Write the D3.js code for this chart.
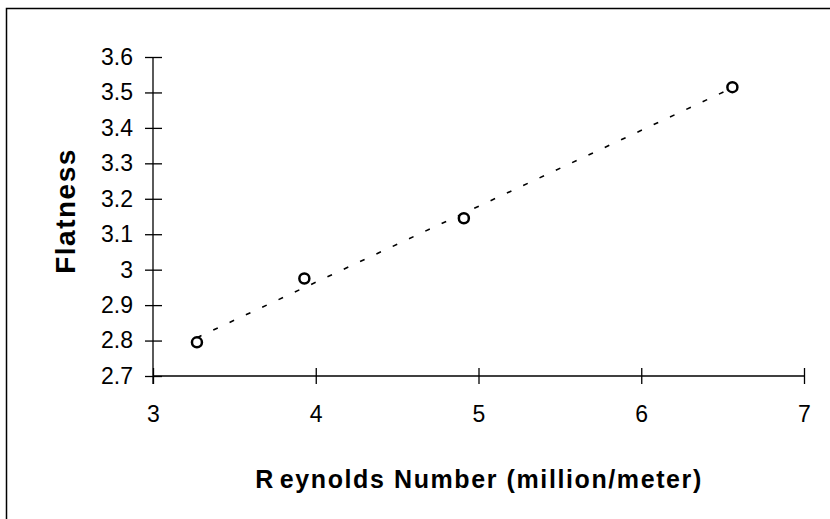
<!DOCTYPE html>
<html>
<head>
<meta charset="utf-8">
<script src="https://cdn.jsdelivr.net/npm/d3@7"></script>
<style>
    body { margin: 0; background: #fff; }
    svg { display: block; }
    .tick text { font-family: "Liberation Sans", Arial, sans-serif; font-size: 23px; fill: #000; }
    .title { font-family: "Liberation Sans", Arial, sans-serif; font-weight: bold; fill: #000; }
</style>
</head>
<body>
<div class="container"></div>
<script>
// Reynolds number (million/meter) vs flatness
const reynolds = [3.27, 3.93, 4.91, 6.56];
const flatness = [2.795, 2.975, 3.145, 3.515];
const xTicks = [3, 4, 5, 6, 7];
const yTicks = [2.7, 2.8, 2.9, 3.0, 3.1, 3.2, 3.3, 3.4, 3.5, 3.6];

const width = 830;
const height = 519;

const svg = d3.select('.container').append('svg').attr('width', width).attr('height', height);

// outer frame (right and bottom edges are cut off in the original)
svg.append('rect')
    .attr('x', 6.5).attr('y', 8.5)
    .attr('width', 900).attr('height', 600)
    .attr('fill', 'none').attr('stroke', '#000').attr('stroke-width', 1.5);

const x = d3.scaleLinear().domain([3, 7]).range([153, 804]);
const y = d3.scaleLinear().domain([2.7, 3.6]).range([376, 57]);

const xAxis = svg.append('g')
    .attr('transform', `translate(0,${y(2.7)})`)
    .call(d3.axisBottom(x).tickValues(xTicks).tickSize(8).tickPadding(22).tickFormat(d3.format('d')));
xAxis.select('.domain').remove();
xAxis.selectAll('.tick line').attr('y1', -8).attr('stroke', '#000').attr('stroke-width', 1.3);

const yAxis = svg.append('g')
    .attr('transform', `translate(${x(3)},0)`)
    .call(d3.axisLeft(y).tickValues(yTicks).tickSize(8).tickPadding(12).tickFormat(d => d3.format('')(+d.toFixed(1))));
yAxis.select('.domain').remove();
yAxis.selectAll('.tick line').attr('x1', 9).attr('stroke', '#000').attr('stroke-width', 1.3);

// axis lines
svg.append('line').attr('x1', x(3)).attr('x2', x(7)).attr('y1', y(2.7)).attr('y2', y(2.7))
    .attr('stroke', '#000').attr('stroke-width', 1.3);
svg.append('line').attr('x1', x(3)).attr('x2', x(3)).attr('y1', y(3.6)).attr('y2', y(2.7) + 8)
    .attr('stroke', '#000').attr('stroke-width', 1.3);

// linear trendline (least squares over the points)
const mx = d3.mean(reynolds), my = d3.mean(flatness);
const slope = d3.sum(reynolds, (v, i) => (v - mx) * (flatness[i] - my)) / d3.sum(reynolds, v => (v - mx) * (v - mx));
const fit = v => my + slope * (v - mx);
const xmin = d3.min(reynolds), xmax = d3.max(reynolds);

svg.append('line')
    .attr('x1', x(xmin)).attr('y1', y(fit(xmin)))
    .attr('x2', x(xmax)).attr('y2', y(fit(xmax)))
    .attr('stroke', '#000').attr('stroke-width', 1.6)
    .attr('stroke-dasharray', '5,13');

svg.selectAll('circle.pt').data(reynolds).enter().append('circle')
    .attr('class', 'pt')
    .attr('cx', d => x(d))
    .attr('cy', (d, i) => y(flatness[i]))
    .attr('r', 5)
    .attr('fill', '#fff').attr('stroke', '#000').attr('stroke-width', 2.5);

svg.append('text').attr('class', 'title')
    .attr('text-anchor', 'middle')
    .attr('transform', `translate(75,211) rotate(-90)`)
    .style('font-size', '28px')
    .style('letter-spacing', '1.5px')
    .text('Flatness');

const xt = svg.append('text').attr('class', 'title')
    .attr('x', 479).attr('y', 488)
    .attr('text-anchor', 'middle')
    .style('font-size', '25px')
    .style('letter-spacing', '1.6px');
xt.append('tspan').text('R');
xt.append('tspan').attr('dx', 5).text('eynolds Number (million/meter)');
</script>
</body>
</html>
